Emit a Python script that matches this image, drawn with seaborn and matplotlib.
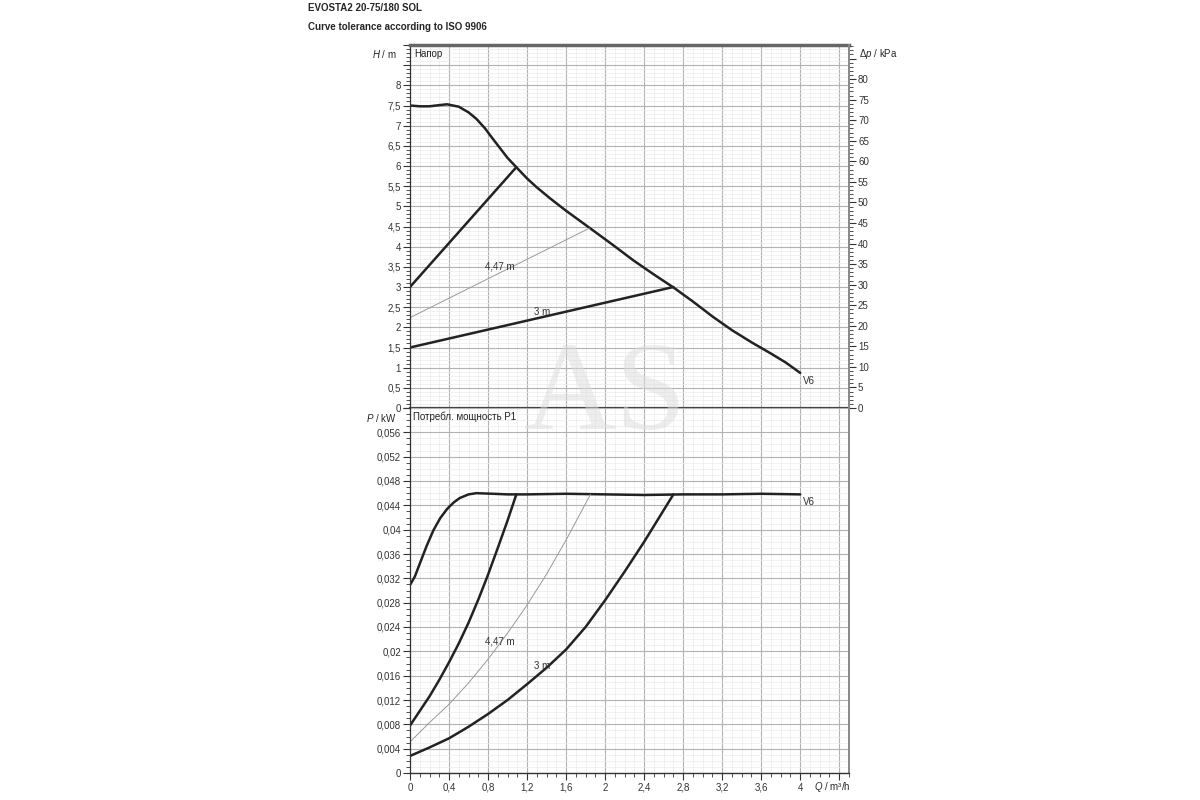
import numpy as np
import pandas as pd
import matplotlib.pyplot as plt
import matplotlib.transforms as mtransforms
from matplotlib.ticker import MultipleLocator, FuncFormatter
import seaborn as sns

# ---- data ----
# head, pump curve V6
q_v6_h = [0, 0.1, 0.2, 0.3, 0.38, 0.5, 0.6, 0.68, 0.77, 0.85, 0.93, 1.0, 1.09,
          1.2, 1.3, 1.44, 1.6, 1.85, 2.07, 2.29, 2.5, 2.7, 2.9, 3.1, 3.3, 3.5, 3.7,
          3.85, 4.0]
h_v6 = [7.5, 7.48, 7.48, 7.51, 7.53, 7.47, 7.33, 7.17, 6.93, 6.67, 6.42, 6.2, 5.97,
        5.69, 5.47, 5.19, 4.89, 4.45, 4.06, 3.66, 3.31, 2.99, 2.64, 2.27, 1.93, 1.63,
        1.35, 1.13, 0.87]

# head, control lines
q_6m_h = [0, 1.09]
h_6m = [3.0, 5.97]
q_447_h = [0, 1.84]
h_447 = [2.24, 4.46]
q_3m_h = [0, 2.70]
h_3m = [1.5, 3.0]

# power input P1
q_v6_p = [0, 0.05, 0.1, 0.17, 0.24, 0.31, 0.38, 0.45, 0.51, 0.6, 0.68, 0.85, 1.0,
          1.2, 1.6, 2.0, 2.4, 2.8, 3.2, 3.6, 4.0]
p_v6 = [0.0309, 0.0323, 0.0344, 0.0373, 0.0399, 0.0419, 0.0434, 0.0445, 0.0452, 0.0458,
        0.0460, 0.0459, 0.0458, 0.0458, 0.0459, 0.0458, 0.0457, 0.0458, 0.0458, 0.0459, 0.0458]

q_6m_p = [0, 0.1, 0.2, 0.3, 0.4, 0.5, 0.6, 0.7, 0.8, 0.9, 1.0, 1.09]
p_6m = [0.0078, 0.0102, 0.0126, 0.0153, 0.0182, 0.0213, 0.0247, 0.0285, 0.0326,
        0.0370, 0.0415, 0.0458]

q_447_p = [0, 0.2, 0.4, 0.6, 0.8, 1.0, 1.2, 1.4, 1.6, 1.75, 1.85]
p_447 = [0.0051, 0.0083, 0.0113, 0.0148, 0.0187, 0.0230, 0.0276, 0.0327, 0.0383,
         0.0428, 0.0458]

q_3m_p = [0, 0.2, 0.4, 0.6, 0.8, 1.0, 1.2, 1.4, 1.6, 1.8, 2.0, 2.2, 2.4, 2.55, 2.7]
p_3m = [0.0028, 0.0042, 0.0057, 0.0076, 0.0097, 0.0120, 0.0146, 0.0173, 0.0203,
        0.0240, 0.0284, 0.0331, 0.0380, 0.0419, 0.0458]

sns.set_style("white")
plt.rcParams['font.family'] = ['Liberation Sans', 'DejaVu Sans']
plt.rcParams['mathtext.fontset'] = 'custom'
plt.rcParams['mathtext.it'] = 'Liberation Sans:italic'
plt.rcParams['mathtext.rm'] = 'Liberation Sans'
fs = 7
dark = '#222222'

fig = plt.figure(figsize=(12, 8), dpi=100)
W, Hh = 1200, 800
ax_h = fig.add_axes([410 / W, 1 - 408 / Hh, 439 / W, 363 / Hh])
ax_p = fig.add_axes([410 / W, 1 - 773 / Hh, 439 / W, 365 / Hh], sharex=ax_h)


def comma(v, pos=None, top=None):
    if top is not None and v > top:
        return ''
    return f"{round(v, 4):g}".replace('.', ',')


for ax in (ax_h, ax_p):
    ax.set_xlim(0, 4.5)
    ax.xaxis.set_major_locator(MultipleLocator(0.4))
    ax.xaxis.set_minor_locator(MultipleLocator(0.1))
    ax.grid(which='major', color='#b2b2b2', lw=0.8)
    ax.grid(which='minor', color='#ebebeb', lw=0.5)
    ax.set_axisbelow(True)
    ax.tick_params(axis='y', which='major', direction='out', length=5, width=0.8,
                   labelsize=fs, colors='#333333', pad=1.5, left=True)
    ax.tick_params(axis='y', which='minor', direction='out', length=3, width=0.6,
                   colors='#333333', left=True)

# ---- head panel ----
sns.lineplot(x=q_v6_h, y=h_v6, ax=ax_h, color=dark, lw=1.8)
sns.lineplot(x=q_6m_h, y=h_6m, ax=ax_h, color=dark, lw=1.8)
sns.lineplot(x=q_447_h, y=h_447, ax=ax_h, color='#999999', lw=0.7)
sns.lineplot(x=q_3m_h, y=h_3m, ax=ax_h, color=dark, lw=1.8)
ax_h.set_ylim(0, 9)
ax_h.yaxis.set_major_locator(MultipleLocator(0.5))
ax_h.yaxis.set_minor_locator(MultipleLocator(0.1))
ax_h.yaxis.set_major_formatter(FuncFormatter(lambda v, p: comma(v, p, 8.01)))
ax_h.tick_params(axis='x', which='both', length=0, labelbottom=False)
ax_h.set_xlabel('')
ax_h.set_ylabel('')

ax_h.text(0.92, 3.5, '4,47 m', fontsize=fs, color='#333333', ha='center', va='center')
ax_h.text(1.35, 2.38, '3 m', fontsize=fs, color='#333333', ha='center', va='center')
ax_h.text(4.03, 0.68, 'V6', fontsize=fs, color='#333333', ha='left', va='center')
ax_h.text(0.04, 8.9, 'Напор', fontsize=fs, color='#222222', ha='left', va='top')

ax_k = ax_h.twinx()
ax_k.set_ylim(0, 9 * 9.81)
ax_k.yaxis.set_major_locator(MultipleLocator(5))
ax_k.yaxis.set_minor_locator(MultipleLocator(1))
ax_k.yaxis.set_major_formatter(FuncFormatter(lambda v, p: comma(v, p, 80.1)))
ax_k.tick_params(axis='y', which='major', direction='out', length=5, width=0.8,
                 labelsize=fs, colors='#333333', pad=1.5, right=True)
ax_k.tick_params(axis='y', which='minor', direction='out', length=3, width=0.6,
                 colors='#333333', right=True)
ax_k.grid(False)

lt_h = mtransforms.blended_transform_factory(ax_h.transAxes, ax_h.transData)
ax_h.text(-0.03, 8.78, '$H$ / m', transform=lt_h, fontsize=fs, ha='right', va='center')
ax_h.text(1.022, 8.78, r'Δ$p$ / kPa', transform=lt_h, fontsize=fs, ha='left', va='center')

# ---- power panel ----
sns.lineplot(x=q_v6_p, y=p_v6, ax=ax_p, color=dark, lw=1.8)
sns.lineplot(x=q_6m_p, y=p_6m, ax=ax_p, color=dark, lw=1.8)
sns.lineplot(x=q_447_p, y=p_447, ax=ax_p, color='#999999', lw=0.7)
sns.lineplot(x=q_3m_p, y=p_3m, ax=ax_p, color=dark, lw=1.8)
ax_p.set_ylim(0, 0.06)
ax_p.yaxis.set_major_locator(MultipleLocator(0.004))
ax_p.yaxis.set_minor_locator(MultipleLocator(0.001))
ax_p.yaxis.set_major_formatter(FuncFormatter(lambda v, p: comma(v, p, 0.0565)))
ax_p.xaxis.set_major_formatter(FuncFormatter(lambda v, p: comma(v, p, 4.01)))
ax_p.tick_params(axis='x', which='major', direction='out', length=5, width=0.8,
                 labelsize=fs, colors='#333333', pad=2, bottom=True)
ax_p.tick_params(axis='x', which='minor', direction='out', length=3, width=0.6,
                 colors='#333333', bottom=True)
ax_p.set_xlabel('')
ax_p.set_ylabel('')

ax_p.text(0.92, 0.0216, '4,47 m', fontsize=fs, color='#333333', ha='center', va='center')
ax_p.text(1.35, 0.0176, '3 m', fontsize=fs, color='#333333', ha='center', va='center')
ax_p.text(4.03, 0.0445, 'V6', fontsize=fs, color='#333333', ha='left', va='center')
ax_p.text(0.03, 0.0595, 'Потребл. мощность P1', fontsize=fs, color='#222222',
          ha='left', va='top')

lt_p = mtransforms.blended_transform_factory(ax_p.transAxes, ax_p.transData)
ax_p.text(-0.03, 0.0583, '$P$ / kW', transform=lt_p, fontsize=fs, ha='right', va='center')
bt_p = mtransforms.blended_transform_factory(ax_p.transData, ax_p.transAxes)
ax_p.text(4.33, -0.018, '$Q$ / m³/h', transform=bt_p, fontsize=fs, ha='center', va='top')

# ---- frame ----
for ax in (ax_h, ax_p, ax_k):
    for s in ax.spines.values():
        s.set_visible(False)
ax_h.spines['top'].set_visible(True)
ax_h.spines['top'].set_color('#666666')
ax_h.spines['top'].set_linewidth(2.5)
ax_h.spines['bottom'].set_visible(True)
ax_h.spines['bottom'].set_color('#444444')
ax_h.spines['bottom'].set_linewidth(1.6)
ax_h.spines['left'].set_visible(True)
ax_h.spines['left'].set_color('#333333')
ax_h.spines['left'].set_linewidth(0.9)
ax_k.spines['right'].set_visible(True)
ax_k.spines['right'].set_color('#888888')
ax_k.spines['right'].set_linewidth(1.4)
ax_p.spines['left'].set_visible(True)
ax_p.spines['left'].set_color('#333333')
ax_p.spines['left'].set_linewidth(0.9)
ax_p.spines['bottom'].set_visible(True)
ax_p.spines['bottom'].set_color('#333333')
ax_p.spines['bottom'].set_linewidth(1.0)
ax_p.spines['right'].set_visible(True)
ax_p.spines['right'].set_color('#888888')
ax_p.spines['right'].set_linewidth(1.4)

# titles
fig.text(308 / W, 1 - 8 / Hh, 'EVOSTA2 20-75/180 SOL', fontsize=fs, fontweight='bold',
         ha='left', va='center')
fig.text(308 / W, 1 - 27 / Hh, 'Curve tolerance according to ISO 9906', fontsize=fs,
         fontweight='bold', ha='left', va='center')

# watermark
fig.text(605 / W, 1 - 398 / Hh, 'AS', fontsize=92, family='Liberation Serif',
         color='#dcdcdc', alpha=0.5, ha='center', va='center', zorder=5)

fig.savefig('out.png', dpi=100)
